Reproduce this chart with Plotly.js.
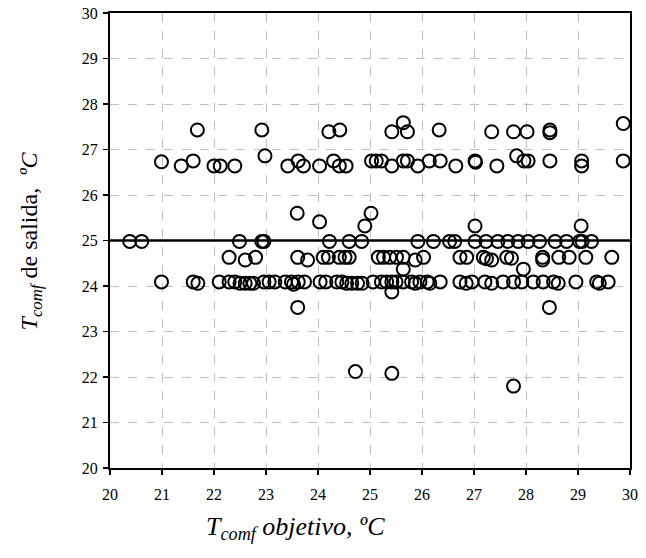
<!DOCTYPE html>
<html>
<head>
<meta charset="utf-8">
<script src="https://cdn.plot.ly/plotly-3.0.1.min.js"></script>
<style>html,body{margin:0;padding:0;background:#fff;}#chart{width:646px;height:558px;}</style>
</head>
<body>
<div id="chart"></div>
<script>
// Upper band (~27.4)
const xTop = [21.68, 22.92, 24.21, 24.42, 25.42, 25.64, 25.72, 26.33, 27.34, 27.76, 28.02, 28.46, 28.46, 29.87];
const yTop = [27.43, 27.43, 27.39, 27.43, 27.39, 27.59, 27.39, 27.43, 27.39, 27.39, 27.39, 27.43, 27.37, 27.57];
// Band ~26.7
const xMid = [20.99, 21.37, 21.6, 22.0, 22.12, 22.4, 22.98, 23.42, 23.62, 23.72, 24.03, 24.3, 24.41, 24.54, 25.03, 25.12, 25.22, 25.42, 25.64, 25.72, 25.92, 26.14, 26.35, 26.65, 27.02, 27.03, 27.44, 27.82, 27.96, 28.04, 28.46, 29.07, 29.07, 29.87];
const yMid = [26.73, 26.64, 26.75, 26.64, 26.64, 26.64, 26.86, 26.64, 26.75, 26.64, 26.64, 26.75, 26.64, 26.64, 26.75, 26.75, 26.75, 26.64, 26.75, 26.75, 26.64, 26.75, 26.75, 26.64, 26.75, 26.72, 26.64, 26.86, 26.75, 26.75, 26.75, 26.75, 26.64, 26.75];
// Scattered ~25.3-25.6
const xUp = [23.6, 24.03, 24.9, 25.02, 27.02, 29.06];
const yUp = [25.6, 25.41, 25.32, 25.6, 25.32, 25.32];
// Band ~25.0
const x25 = [20.38, 20.61, 22.49, 22.92, 22.96, 24.22, 24.6, 24.84, 25.92, 26.22, 26.53, 26.63, 27.02, 27.23, 27.46, 27.65, 27.85, 28.04, 28.26, 28.56, 28.78, 29.03, 29.08, 29.26];
const y25 = [24.98, 24.98, 24.98, 24.98, 24.98, 24.98, 24.98, 24.98, 24.98, 24.98, 24.98, 24.98, 24.98, 24.98, 24.98, 24.98, 24.98, 24.98, 24.98, 24.98, 24.98, 24.98, 24.98, 24.98];
// Band ~24.6
const x246 = [22.29, 22.6, 22.8, 23.61, 23.8, 24.1, 24.2, 24.41, 24.52, 24.6, 25.16, 25.26, 25.38, 25.51, 25.64, 25.87, 26.03, 26.73, 26.86, 27.18, 27.24, 27.34, 27.63, 27.72, 28.32, 28.32, 28.63, 28.83, 29.15, 29.65, 25.64, 27.95];
const y246 = [24.63, 24.57, 24.63, 24.63, 24.57, 24.63, 24.63, 24.63, 24.63, 24.63, 24.63, 24.63, 24.63, 24.63, 24.63, 24.57, 24.63, 24.63, 24.63, 24.63, 24.6, 24.57, 24.63, 24.61, 24.63, 24.57, 24.63, 24.63, 24.63, 24.63, 24.37, 24.37];
// Band ~24.1
const x241 = [20.99, 21.6, 21.69, 22.1, 22.29, 22.4, 22.5, 22.6, 22.69, 22.76, 22.96, 23.06, 23.17, 23.37, 23.49, 23.53, 23.62, 23.74, 24.04, 24.15, 24.36, 24.46, 24.55, 24.65, 24.76, 24.85, 25.06, 25.22, 25.32, 25.42, 25.42, 25.5, 25.64, 25.8, 25.87, 25.96, 26.1, 26.15, 26.35, 26.73, 26.85, 26.96, 27.21, 27.34, 27.56, 27.76, 27.92, 28.14, 28.33, 28.53, 28.62, 28.96, 29.36, 29.41, 29.58];
const y241 = [24.09, 24.09, 24.06, 24.09, 24.09, 24.09, 24.06, 24.06, 24.06, 24.06, 24.09, 24.09, 24.09, 24.09, 24.09, 24.04, 24.09, 24.09, 24.09, 24.09, 24.09, 24.09, 24.06, 24.06, 24.06, 24.06, 24.09, 24.09, 24.09, 24.09, 23.87, 24.09, 24.09, 24.09, 24.06, 24.09, 24.09, 24.06, 24.09, 24.09, 24.06, 24.09, 24.09, 24.06, 24.09, 24.09, 24.09, 24.09, 24.09, 24.09, 24.06, 24.09, 24.09, 24.06, 24.09];
// Low outliers
const xLow = [23.61, 28.45, 24.72, 25.42, 27.76];
const yLow = [23.53, 23.53, 22.12, 22.08, 21.8];

const refX = [20, 30];
const refY = [25, 25];
const tickVals = [20, 21, 22, 23, 24, 25, 26, 27, 28, 29, 30];

const xs = [].concat(xTop, xMid, xUp, x25, x246, x241, xLow);
const ys = [].concat(yTop, yMid, yUp, y25, y246, y241, yLow);

const font = {family: 'Liberation Serif', color: '#000'};

const traces = [
  {x: refX, y: refY, mode: 'lines', line: {color: '#000', width: 2.5}, hoverinfo: 'skip', showlegend: false},
  {x: xs, y: ys, mode: 'markers', type: 'scatter', showlegend: false,
   marker: {symbol: 'circle-open', size: 13, color: '#000', line: {width: 2, color: '#000'}}}
];

function axis(extra) {
  return Object.assign({
    range: [20, 30], tickvals: tickVals, ticktext: tickVals.map(String),
    showgrid: true, gridcolor: '#bfbfbf', griddash: 'dash', gridwidth: 1,
    showline: true, linecolor: '#000', linewidth: 2, mirror: true,
    ticks: 'outside', ticklen: 5, tickwidth: 1.5, tickcolor: '#000',
    zeroline: false, tickfont: {family: 'Liberation Serif', size: 16, color: '#000'}
  }, extra);
}

const layout = {
  width: 646, height: 558,
  margin: {l: 110, r: 16, t: 13, b: 90},
  paper_bgcolor: '#fff', plot_bgcolor: '#fff',
  font: font,
  xaxis: axis({ticklabelstandoff: 6}),
  yaxis: axis({ticklabelstandoff: 2}),
  annotations: [
    {text: '<i>T<sub>comf</sub> objetivo, ºC</i>', xref: 'paper', yref: 'paper', x: 0.357, y: -0.132,
     xanchor: 'center', yanchor: 'middle', showarrow: false, font: {family: 'Liberation Serif', size: 26, color: '#000'}},
    {text: '<i>T<sub>comf</sub></i> de salida,  <i>ºC</i>', xref: 'paper', yref: 'paper', x: -0.152, y: 0.50,
     xanchor: 'center', yanchor: 'middle', textangle: -90, showarrow: false, font: {family: 'Liberation Serif', size: 24, color: '#000'}}
  ]
};

Plotly.newPlot('chart', traces, layout, {displayModeBar: false, staticPlot: true});
</script>
</body>
</html>
